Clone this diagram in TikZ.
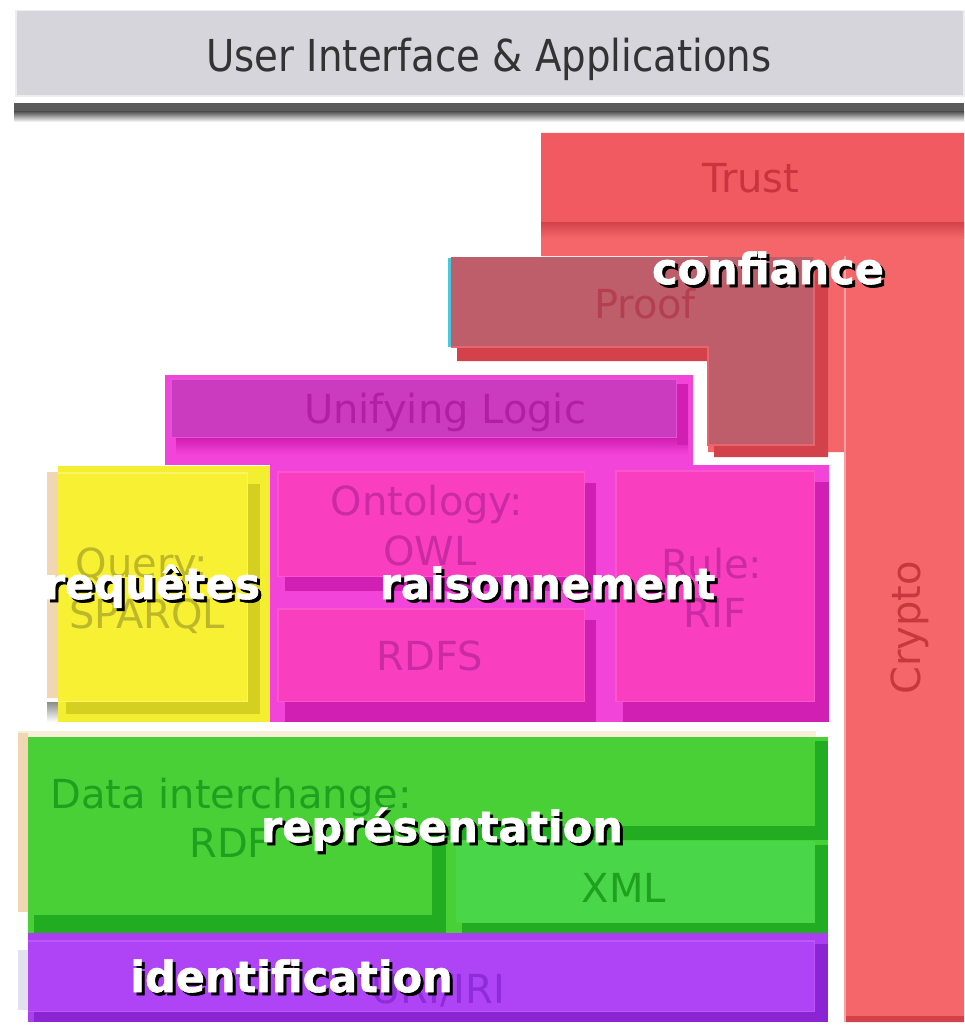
\documentclass[tikz,border=0pt]{standalone}
\usepackage{fontspec}
\setmainfont{DejaVu Sans}
\newfontfamily\uifont[FakeStretch=0.88]{DejaVu Sans}
\newfontfamily\capfont[FakeBold=1.4]{DejaVu Sans Bold}

% layer fills
\definecolor{uigray}{HTML}{D5D5DB}
\definecolor{uishadow}{HTML}{5A5A5A}
\definecolor{uitext}{HTML}{333333}
\definecolor{redbase}{HTML}{F5666B}
\definecolor{trustred}{HTML}{F25A62}
\definecolor{redshadow}{HTML}{D3424A}
\definecolor{trusttext}{HTML}{C9343E}
\definecolor{prooffill}{HTML}{BE5E6A}
\definecolor{proofedge}{HTML}{E8646E}
\definecolor{prooftext}{HTML}{B4404F}
\definecolor{proofcyan}{HTML}{4CC8DC}
\definecolor{cryptotext}{HTML}{C8373E}
\definecolor{magouter}{HTML}{F344D9}
\definecolor{magshadow}{HTML}{D11EB3}
\definecolor{logicfill}{HTML}{CB3BBF}
\definecolor{logicedge}{HTML}{E352D8}
\definecolor{logictext}{HTML}{B01FA4}
\definecolor{ontofill}{HTML}{F93FBF}
\definecolor{ontoedge}{HTML}{FB55CC}
\definecolor{ontotext}{HTML}{CA2AA3}
\definecolor{yelouter}{HTML}{F4EE30}
\definecolor{yelfill}{HTML}{F8F133}
\definecolor{yeledge}{HTML}{FBF565}
\definecolor{yelshadow}{HTML}{D5CF22}
\definecolor{yeltext}{HTML}{BDB72A}
\definecolor{beige}{HTML}{F0D6B2}
\definecolor{cream}{HTML}{F8EFD8}
\definecolor{greenfill}{HTML}{49D037}
\definecolor{greenshadow}{HTML}{22AC22}
\definecolor{xmlfill}{HTML}{49D649}
\definecolor{greentext}{HTML}{1FA01F}
\definecolor{purplefill}{HTML}{AA3EF0}
\definecolor{purplebox}{HTML}{AE44F6}
\definecolor{purpleedge}{HTML}{BB58FA}
\definecolor{purpleshadow}{HTML}{8B24D2}
\definecolor{purpletext}{HTML}{8E2CD8}
\definecolor{lavender}{HTML}{E2E2EE}

\begin{document}
\begin{tikzpicture}[x=1pt,y=-1pt,
  layertext/.style={anchor=base, inner sep=0pt, font=\fontsize{40}{40}\selectfont},
  overtext/.style={anchor=base, inner sep=0pt, text=white, font=\capfont\fontsize{43}{43}\selectfont},
  overshadow/.style={overtext, text=black}]

\useasboundingbox[fill=white] (0,0) rectangle (964,1027);

% ---------- User Interface & Applications ----------
\fill[uishadow] (14,103) rectangle (964,112);
\shade[top color=uishadow, bottom color=white] (14,112) rectangle (964,122);
\fill[uigray] (15,10) rectangle (964,97);
\draw[white!60!uigray, line width=1.5pt] (15.75,10.75) rectangle (964,96.25);
\node[anchor=base, inner sep=0pt, text=uitext, font=\uifont\fontsize{44}{44}\selectfont]
  (ui) at (489,72) {User Interface \& Applications};

% ---------- Trust / Crypto ----------
\fill[redbase] (541,133) -- (964,133) -- (964,1022) -- (845,1022) -- (845,452)
  -- (708,452) -- (708,256) -- (541,256) -- cycle;
\fill[trustred] (541,133) rectangle (964,222);
\shade[top color=redshadow, bottom color=redbase] (541,222) rectangle (964,238);
\fill[redshadow] (845,1016) rectangle (964,1022);
\draw[white!40!redbase, line width=1.5pt] (845,256) -- (845,1022);
\node[layertext, text=trusttext] (trust) at (751,193) {Trust};
\node[layertext, text=cryptotext, rotate=90] (crypto) at (920,628) {Crypto};

% ---------- Proof ----------
\fill[redshadow] (457,268) -- (828,268) -- (828,457) -- (714,457) -- (714,361)
  -- (457,361) -- cycle;
\fill[prooffill] (451,257) -- (814,257) -- (814,445) -- (708,445) -- (708,347)
  -- (451,347) -- cycle;
\draw[proofedge, line width=1.5pt] (451,347) -- (708,347) -- (708,445) -- (814,445) -- (814,257);
\draw[proofcyan, line width=3pt] (449.5,258) -- (449.5,347);
\node[layertext, text=prooftext] (proof) at (645,318) {Proof};

% ---------- Unifying Logic ----------
\fill[magouter] (165,375) rectangle (693,465);
\begin{scope}
  \clip (165,375) rectangle (693,465);
  \shade[top color=magshadow, bottom color=magouter] (176,438) rectangle (688,455);
  \fill[magshadow] (677,384) rectangle (688,445);
\end{scope}
\fill[logicfill] (170,378) rectangle (677,438);
\draw[logicedge, line width=1.5pt] (170.75,378.75) rectangle (676.25,437.25);
\node[layertext, text=logictext] (logic) at (445,423) {Unifying Logic};

% ---------- Ontology / RDFS / Rule ----------
\fill[magouter] (270,465) rectangle (829,722);
\begin{scope}
  \clip (270,465) rectangle (829,722);
  \fill[magshadow] (285,483) rectangle (596,591);
  \fill[magshadow] (285,620) rectangle (596,722);
  \fill[magshadow] (623,482) rectangle (829,722);
\end{scope}
\fill[ontofill] (277,471) rectangle (585,577);
\fill[ontofill] (277,608) rectangle (585,702);
\fill[ontofill] (615,470) rectangle (815,702);
\draw[ontoedge, line width=1.5pt] (277.75,471.75) rectangle (584.25,576.25);
\draw[ontoedge, line width=1.5pt] (277.75,608.75) rectangle (584.25,701.25);
\draw[ontoedge, line width=1.5pt] (615.75,470.75) rectangle (814.25,701.25);
\node[layertext, text=ontotext] (ontology) at (427,515) {Ontology:};
\node[layertext, text=ontotext] (owl) at (430,565) {OWL};
\node[layertext, text=ontotext] (rdfs) at (430,670) {RDFS};
\node[layertext, text=ontotext] (rule) at (712,578) {Rule:};
\node[layertext, text=ontotext] (rif) at (715,627) {RIF};

% ---------- Query ----------
\fill[beige] (47,472) rectangle (58,698);
\shade[top color=black!45, bottom color=white] (47,702) rectangle (58,722);
\fill[yelouter] (58,466) rectangle (270,722);
\begin{scope}
  \clip (58,466) rectangle (270,722);
  \fill[yelshadow] (66,484) rectangle (260,714);
\end{scope}
\fill[yelfill] (58,472) rectangle (248,702);
\draw[yeledge, line width=1.5pt] (58,472.75) -- (247.25,472.75) -- (247.25,701.25) -- (58,701.25);
\node[layertext, text=yeltext] (query) at (142,577) {Query:};
\node[layertext, text=yeltext] (sparql) at (147,628) {SPARQL};

% ---------- Data interchange / XML ----------
\fill[cream] (18,731) rectangle (816,737);
\fill[beige] (18,733) rectangle (28,912);
\fill[greenfill] (28,737) rectangle (828,938);
\fill[greenshadow] (436,826) rectangle (828,840);
\fill[greenshadow] (815,741) rectangle (828,840);
\fill[greenshadow] (432,830) rectangle (446,915);
\fill[greenshadow] (34,915) rectangle (446,933);
\fill[greenshadow] (462,923) rectangle (828,938);
\fill[greenshadow] (815,845) rectangle (828,938);
\fill[greenfill] (28,737) rectangle (815,826);
\fill[greenfill] (28,737) rectangle (432,915);
\fill[xmlfill] (456,841) rectangle (815,923);
\node[layertext, text=greentext] (data) at (231,808) {Data interchange:};
\node[layertext, text=greentext] (rdf) at (230,857) {RDF};
\node[layertext, text=greentext] (xml) at (624,902) {XML};

% ---------- URI/IRI ----------
\fill[lavender] (18,950) rectangle (28,1010);
\fill[purplefill] (28,933) rectangle (828,1022);
\fill[purpleshadow] (34,1012) rectangle (828,1022);
\fill[purpleshadow] (815,944) rectangle (828,1022);
\fill[purplebox] (28,940) rectangle (815,1012);
\draw[purpleedge, line width=1.5pt] (28,940.75) -- (814.25,940.75) -- (814.25,1011.25) -- (28,1011.25);
\node[layertext, text=purpletext] (uri) at (438,1003) {URI/IRI};

% ---------- French captions ----------
\node[overshadow] (confiance-s) at (771,287) {confiance};
\node[overtext] (confiance) at (768,284) {confiance};
\node[overshadow] (requetes-s) at (155,602) {requêtes};
\node[overtext] (requetes) at (152,599) {requêtes};
\node[overshadow] (raisonnement-s) at (550.5,602) {raisonnement};
\node[overtext] (raisonnement) at (547.5,599) {raisonnement};
\node[overshadow] (representation-s) at (445,845) {représentation};
\node[overtext] (representation) at (442,842) {représentation};
\node[overshadow] (identification-s) at (294.5,995) {identification};
\node[overtext] (identification) at (291.5,992) {identification};

\end{tikzpicture}
\end{document}
